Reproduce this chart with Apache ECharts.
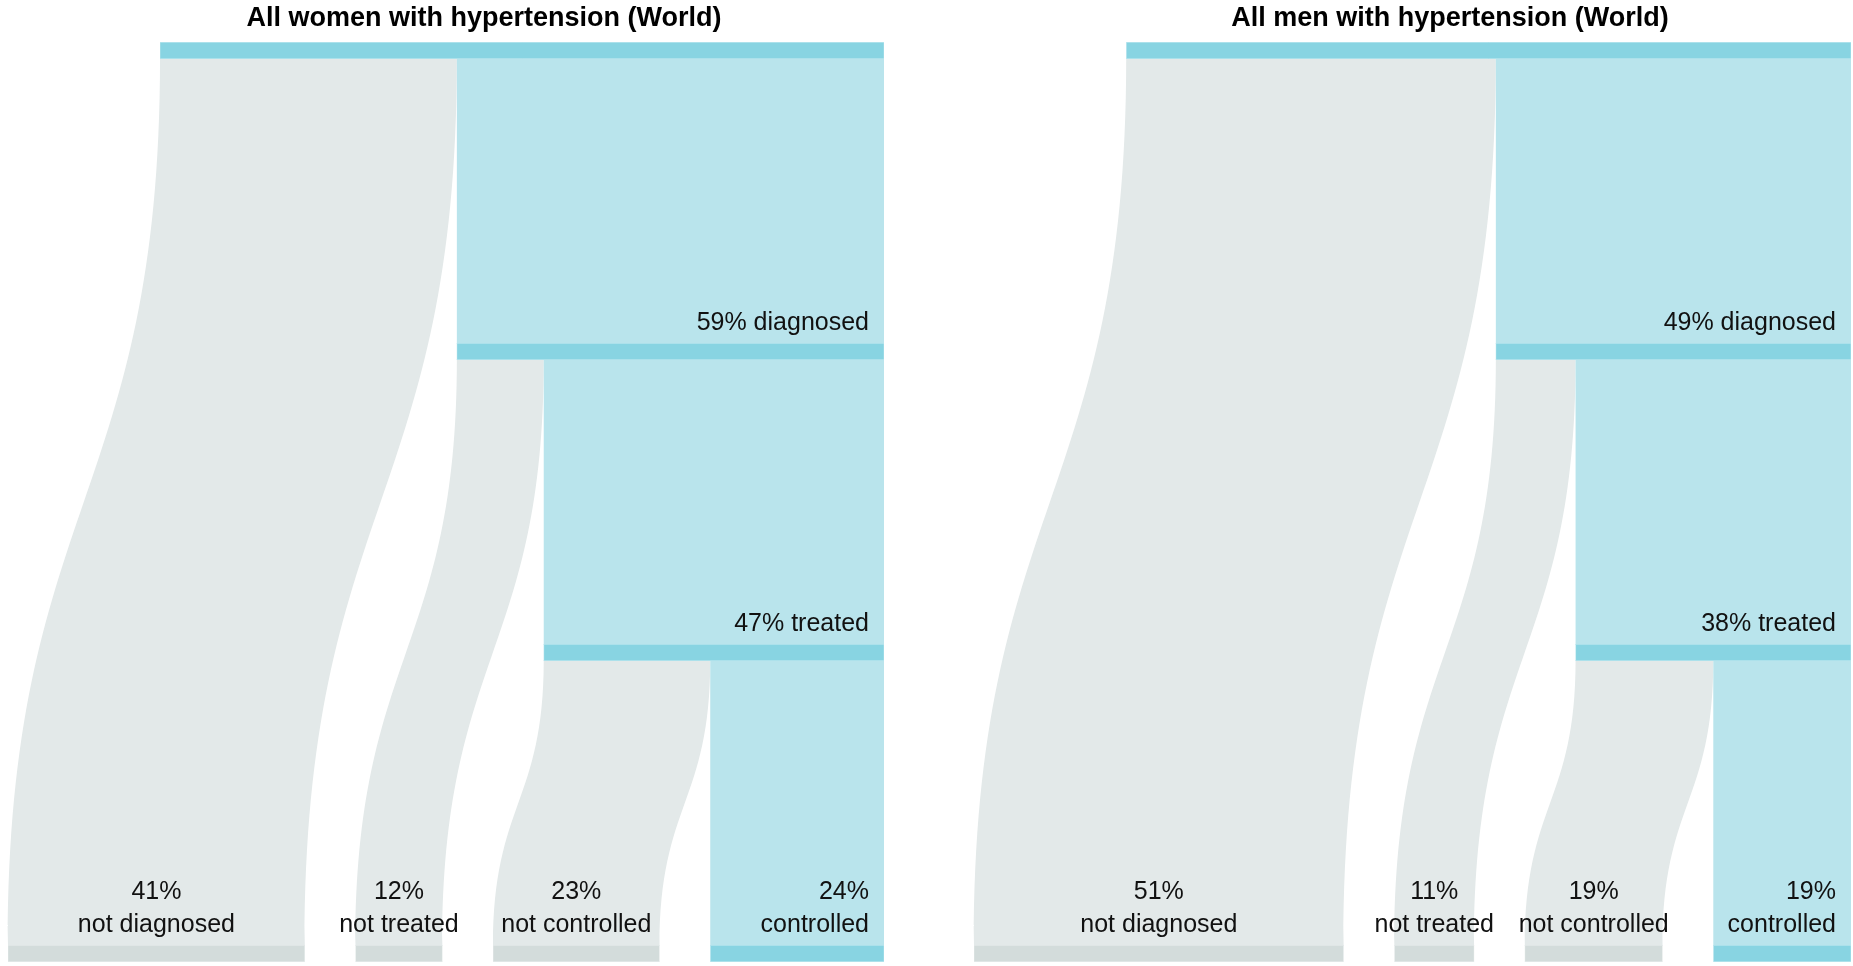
<!DOCTYPE html>
<html>
<head>
<meta charset="utf-8">
<title>Hypertension care cascade</title>
<script src="https://cdn.jsdelivr.net/npm/echarts@6/dist/echarts.min.js"></script>
<style>
html, body { margin: 0; padding: 0; background: #fff; }
#chart { width: 1853px; height: 966px; }
</style>
</head>
<body>
<div id="chart"></div>
<script>
// values in % of all people with hypertension, [women, men]
var panelTitles = ['All women with hypertension (World)', 'All men with hypertension (World)'];
var diagnosed = [59, 49];
var treated = [47, 38];
var notDiagnosed = [41, 51];
var notTreated = [12, 11];
var notControlled = [23, 19];
var controlled = [24, 19];
var outcomeNames = ['not diagnosed', 'not treated', 'not controlled', 'controlled'];

var BLUE = '#88d4e2', BLUE_FLOW = '#b9e4ec', GREY = '#d3dcdb', GREY_FLOW = '#e3e9e9';
var FONT = '"Liberation Sans", Arial, Helvetica, sans-serif';
var GAP = 7;      // gap between bottom nodes, in % units
var BAR_H = 17;   // node bar thickness, px

var chart = echarts.init(document.getElementById('chart'));

// build nodes and links of one panel (x in %, y in stage index)
function buildShapes(p) {
	var total = 100;
	var outcomes = [notDiagnosed[p], notTreated[p], notControlled[p], controlled[p]];
	var bottom = [];
	var right = total;
	for (var i = outcomes.length - 1; i >= 0; i--) {
		bottom[i] = [right - outcomes[i], right];
		right = right - outcomes[i] - GAP;
	}
	var dg = [total - diagnosed[p], total];
	var tr = [total - treated[p], total];
	var shapes = [
		{kind: 'link', x: [0, notDiagnosed[p]], to: bottom[0], s: [0, 3], c: GREY_FLOW},
		{kind: 'link', x: dg, to: dg, s: [0, 1], c: BLUE_FLOW},
		{kind: 'link', x: [dg[0], dg[0] + notTreated[p]], to: bottom[1], s: [1, 3], c: GREY_FLOW},
		{kind: 'link', x: tr, to: tr, s: [1, 2], c: BLUE_FLOW},
		{kind: 'link', x: [tr[0], tr[0] + notControlled[p]], to: bottom[2], s: [2, 3], c: GREY_FLOW},
		{kind: 'link', x: [total - controlled[p], total], to: bottom[3], s: [2, 3], c: BLUE_FLOW},
		{kind: 'node', x: [0, total], s: 0, c: BLUE},
		{kind: 'node', x: dg, s: 1, c: BLUE, label: diagnosed[p] + '% diagnosed', align: 'right'},
		{kind: 'node', x: tr, s: 2, c: BLUE, label: treated[p] + '% treated', align: 'right'}
	];
	for (var j = 0; j < outcomes.length; j++) {
		var last = j === outcomes.length - 1;
		shapes.push({
			kind: 'node', x: bottom[j], s: 3, c: last ? BLUE : GREY,
			label: outcomes[j] + '%\n' + outcomeNames[j],
			align: last ? 'right' : 'center'
		});
	}
	return {shapes: shapes, minX: bottom[0][0]};
}

var panels = [buildShapes(0), buildShapes(1)];

function makeRender(shapes) {
	return function (params, api) {
		var sh = shapes[params.dataIndex];
		if (sh.kind === 'link') {
			var a0 = api.coord([sh.x[0], sh.s[0]]), a1 = api.coord([sh.x[1], sh.s[0]]);
			var b0 = api.coord([sh.to[0], sh.s[1]]), b1 = api.coord([sh.to[1], sh.s[1]]);
			var ys = a0[1] + BAR_H - 1, yt = b0[1] + 1, ym = (ys + yt) / 2;
			var d = 'M' + a0[0] + ' ' + ys +
				' C' + a0[0] + ' ' + ym + ' ' + b0[0] + ' ' + ym + ' ' + b0[0] + ' ' + yt +
				' L' + b1[0] + ' ' + yt +
				' C' + b1[0] + ' ' + ym + ' ' + a1[0] + ' ' + ym + ' ' + a1[0] + ' ' + ys + ' Z';
			return {type: 'path', shape: {pathData: d}, style: {fill: sh.c}};
		}
		var p0 = api.coord([sh.x[0], sh.s]), p1 = api.coord([sh.x[1], sh.s]);
		var children = [{
			type: 'rect',
			shape: {x: p0[0], y: p0[1], width: p1[0] - p0[0], height: BAR_H},
			style: {fill: sh.c}
		}, {
			// faint light edge between bar and flows
			type: 'rect',
			shape: {x: p0[0], y: p0[1] + 0.5, width: p1[0] - p0[0], height: BAR_H - 1},
			style: {fill: null, stroke: 'rgba(255,255,255,0.3)', lineWidth: 1}
		}];
		if (sh.label) {
			var tx = sh.align === 'right' ? p1[0] - 15 : (p0[0] + p1[0]) / 2;
			children.push({
				type: 'text',
				z2: 10,
				style: {
					text: sh.label, x: tx, y: p0[1] - 3,
					align: sh.align, verticalAlign: 'bottom',
					fontSize: 25, lineHeight: 33, fontFamily: FONT, fill: '#111'
				}
			});
		}
		return {type: 'group', children: children};
	};
}

option = {
	animation: false,
	backgroundColor: '#fff',
	title: [
		{text: panelTitles[0], left: 484, top: 5, textAlign: 'center', padding: 0,
			textStyle: {fontSize: 27, fontWeight: 'bold', color: '#000', fontFamily: FONT}},
		{text: panelTitles[1], left: 1450, top: 5, textAlign: 'center', padding: 0,
			textStyle: {fontSize: 27, fontWeight: 'bold', color: '#000', fontFamily: FONT}}
	],
	grid: [
		{left: 8, top: 42, width: 876, height: 903},
		{left: 974, top: 42, width: 877, height: 903}
	],
	xAxis: [
		{type: 'value', gridIndex: 0, min: panels[0].minX, max: 100, show: false},
		{type: 'value', gridIndex: 1, min: panels[1].minX, max: 100, show: false}
	],
	yAxis: [
		{type: 'value', gridIndex: 0, min: 0, max: 3, inverse: true, show: false},
		{type: 'value', gridIndex: 1, min: 0, max: 3, inverse: true, show: false}
	],
	series: panels.map(function (pn, p) {
		return {
			type: 'custom',
			xAxisIndex: p,
			yAxisIndex: p,
			renderItem: makeRender(pn.shapes),
			data: pn.shapes.map(function (s) { return [s.x[0], s.kind === 'link' ? s.s[0] : s.s]; })
		};
	})
};

chart.setOption(option);
</script>
</body>
</html>
